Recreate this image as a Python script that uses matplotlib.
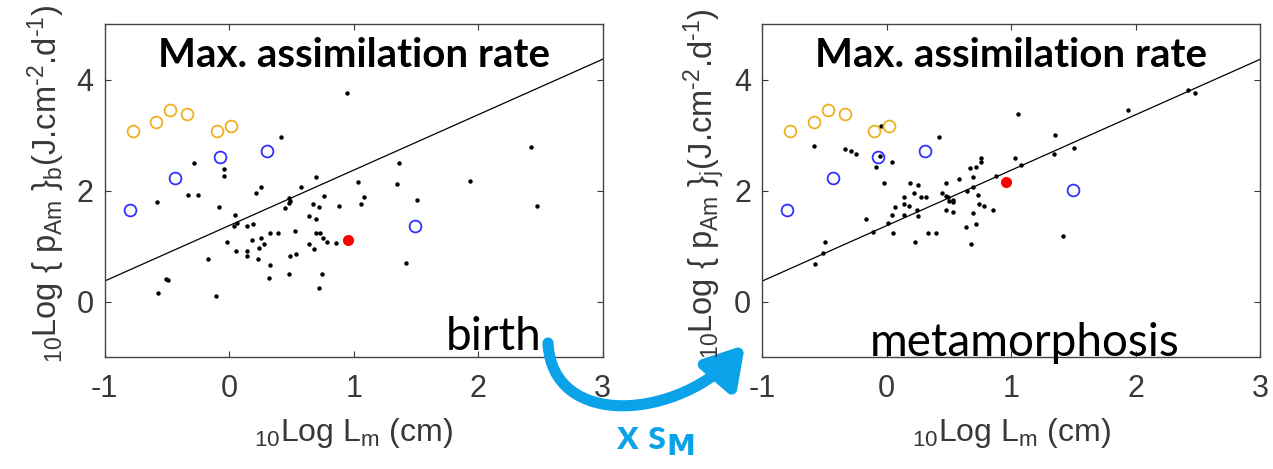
import matplotlib.pyplot as plt
from matplotlib.patches import FancyArrowPatch
from matplotlib.path import Path

# species values, birth (left) and metamorphosis (right)
birth_x = [0.943, 0.419, -0.283, -0.044, -0.044, 0.255, 0.218, 0.580, 0.694, -0.334, -0.248, -0.583,
           -0.085, 0.044, 0.483, 0.488, 0.478, 0.446, 0.759, 0.670, 0.719, 0.644, 0.694, 0.879,
           1.032, 1.083, 1.059, 1.361, 1.348, 1.509, 1.423, 0.063, 0.041, 0.146, 0.194, 0.330,
           0.394, 0.531, 0.697, 0.729, 0.756, 0.783, 0.858, -0.020, 0.181, 0.255, 0.279, 0.242,
           0.644, 0.681, 0.055, 0.143, 0.143, 0.231, -0.170, 0.491, 0.533, 0.330, 0.483, 0.745,
           0.320, 0.719, -0.507, -0.494, -0.569, -0.106, 1.937, 2.424, 2.475]
birth_y = [3.76, 2.97, 2.50, 2.39, 2.27, 2.07, 1.96, 2.07, 2.24, 1.93, 1.93, 1.79,
           1.70, 1.56, 1.87, 1.82, 1.77, 1.68, 1.90, 1.76, 1.70, 1.54, 1.48, 1.73,
           2.15, 1.88, 1.76, 2.49, 2.12, 1.84, 0.70, 1.42, 1.37, 1.37, 1.39, 1.23,
           1.23, 1.28, 1.23, 1.23, 1.14, 1.08, 1.06, 1.08, 1.11, 1.14, 1.03, 0.97,
           1.03, 0.94, 0.91, 0.91, 0.83, 0.77, 0.77, 0.83, 0.86, 0.66, 0.49, 0.49,
           0.43, 0.24, 0.41, 0.38, 0.15, 0.10, 2.18, 2.78, 1.73]

meta_x = [1.056, 0.416, -0.587, -0.335, -0.287, -0.247, -0.047, -0.055, -0.087, 0.039, -0.022, 1.354,
          1.340, 1.506, 1.030, 1.081, 0.880, 0.754, 0.754, 0.717, 0.666, 0.690, 0.580, 0.478,
          0.690, 0.642, 0.730, 0.441, 0.478, 0.492, 0.529, 0.497, 0.529, 0.478, 0.529, 0.740,
          0.778, 0.853, 0.189, 0.253, 0.216, 0.278, 0.315, 0.139, 0.139, 0.179, 0.063, 0.240,
          0.253, 0.039, 0.141, 0.009, 0.052, -0.170, -0.111, 0.328, 0.393, 0.224, 0.639, 0.717,
          0.690, 0.679, 1.418, -0.499, -0.510, -0.574, 1.935, 2.422, 2.473]
meta_y = [3.39, 2.97, 2.80, 2.75, 2.72, 2.66, 3.17, 2.62, 2.43, 2.52, 2.13, 3.00,
          2.66, 2.77, 2.58, 2.46, 2.26, 2.58, 2.52, 2.43, 2.41, 2.24, 2.21, 2.13,
          2.07, 1.99, 1.93, 1.96, 1.90, 1.88, 1.84, 1.82, 1.79, 1.65, 1.62, 1.76,
          1.73, 1.65, 2.13, 2.10, 1.96, 1.88, 1.88, 1.88, 1.76, 1.73, 1.70, 1.65,
          1.54, 1.56, 1.56, 1.42, 1.23, 1.48, 1.25, 1.23, 1.23, 1.08, 1.34, 1.39,
          1.59, 1.03, 1.19, 1.08, 0.88, 0.68, 3.45, 3.82, 3.76]

# orange open circles (same in both panels)
orange_x = [-0.776, -0.586, -0.474, -0.335, -0.100, 0.018]
orange_y = [3.08, 3.23, 3.45, 3.39, 3.08, 3.17]

# blue open circles
blue_x = [-0.798, -0.432, -0.071, 0.307, 1.495]
blue_y_birth = [1.65, 2.22, 2.61, 2.72, 1.37]
blue_y_meta = [1.65, 2.22, 2.61, 2.72, 2.02]

# red highlighted species
red_x = [0.958]
red_y_birth = [1.11]
red_y_meta = [2.15]

# regression line end points
fit_x = [-1, 3]
fit_y = [0.37, 4.37]

x_ticks = [-1, 0, 1, 2, 3]
y_ticks = [0, 2, 4]

W, H = 1273, 469
plt.rcParams['mathtext.default'] = 'regular'
plt.rcParams['axes.unicode_minus'] = False
fig = plt.figure(figsize=(W / 100, H / 100), dpi=100)

tick_col = '#383838'
sans = 'Liberation Sans'


def px(x, y):
    return (x / W, 1 - y / H)


def panel(left, xs, ys, by, ry, sub):
    ax = fig.add_axes([left / W, (H - 357) / H, 498 / W, 332.7 / H])
    ax.plot(xs, ys, 'o', color='black', ms=3.2, mew=0, zorder=3)
    ax.plot(orange_x, orange_y, 'o', mfc='none', mec='#EDB120', ms=8.5, mew=1.3, zorder=4)
    ax.plot(blue_x, by, 'o', mfc='none', mec='#3030ff', ms=8.5, mew=1.3, zorder=4)
    ax.plot(red_x, ry, 'o', color='#ff0000', ms=8, mew=0, zorder=5)
    ax.plot(fit_x, fit_y, '-', color='black', lw=0.9, zorder=2)
    ax.set_xlim(-1, 3)
    ax.set_ylim(-1, 5)
    ax.set_xticks(x_ticks)
    ax.set_yticks(y_ticks)
    ax.tick_params(direction='in', top=True, right=True, length=4, width=0.8,
                   labelsize=22, colors=tick_col)
    ax.tick_params(axis='x', pad=12)
    ax.tick_params(axis='y', pad=8)
    for lab in ax.get_xticklabels() + ax.get_yticklabels():
        lab.set_family(sans)
    for s in ax.spines.values():
        s.set_color('#444444')
        s.set_linewidth(1.0)
    ax.text(0.5, 0.872, 'Max. assimilation rate', transform=ax.transAxes, ha='center',
            va='baseline', fontsize=29, fontweight='bold', family='Lato', zorder=6)
    ax.set_xlabel(r'$_{10}$Log L$_m$ (cm)', fontsize=23, family=sans, color=tick_col, labelpad=9)
    lx = (left - 58) / W
    # hyphen (U+2010) instead of the mathtext minus sign
    fig.text(lx, (H - 184) / H,
             r'$_{10}$Log { p$_{Am}$ }$_' + sub + '$(J.cm$^{\u20102}$.d$^{\u20101}$)',
             rotation=90, ha='center', va='center', fontsize=23.5, family=sans, color=tick_col)
    return ax


panel(104.7, birth_x, birth_y, blue_y_birth, red_y_birth, 'b')
panel(762.3, meta_x, meta_y, blue_y_meta, red_y_meta, 'j')

fig.text(*px(446, 350), 'birth', fontsize=33, family='Lato', ha='left', va='baseline')
fig.text(*px(870, 356), 'metamorphosis', fontsize=33, family='Lato', ha='left', va='baseline')

blue = '#0aa2e8'
verts = [px(548, 343), px(552, 430), px(680, 420), px(745, 345)]
verts = [fig.transFigure.transform(v) for v in verts]
arrow = FancyArrowPatch(path=Path(verts, [Path.MOVETO, Path.CURVE4, Path.CURVE4, Path.CURVE4]),
                        arrowstyle='-|>,head_length=1.5,head_width=0.9', mutation_scale=15,
                        color=blue, lw=8, transform=None)
fig.patches.append(arrow)

fig.text(*px(655, 449), r'x s$_\mathbf{M}$', fontsize=30, fontweight='bold', family='Lato',
         color=blue, ha='center', va='baseline')

fig.savefig('out.png', dpi=100)
